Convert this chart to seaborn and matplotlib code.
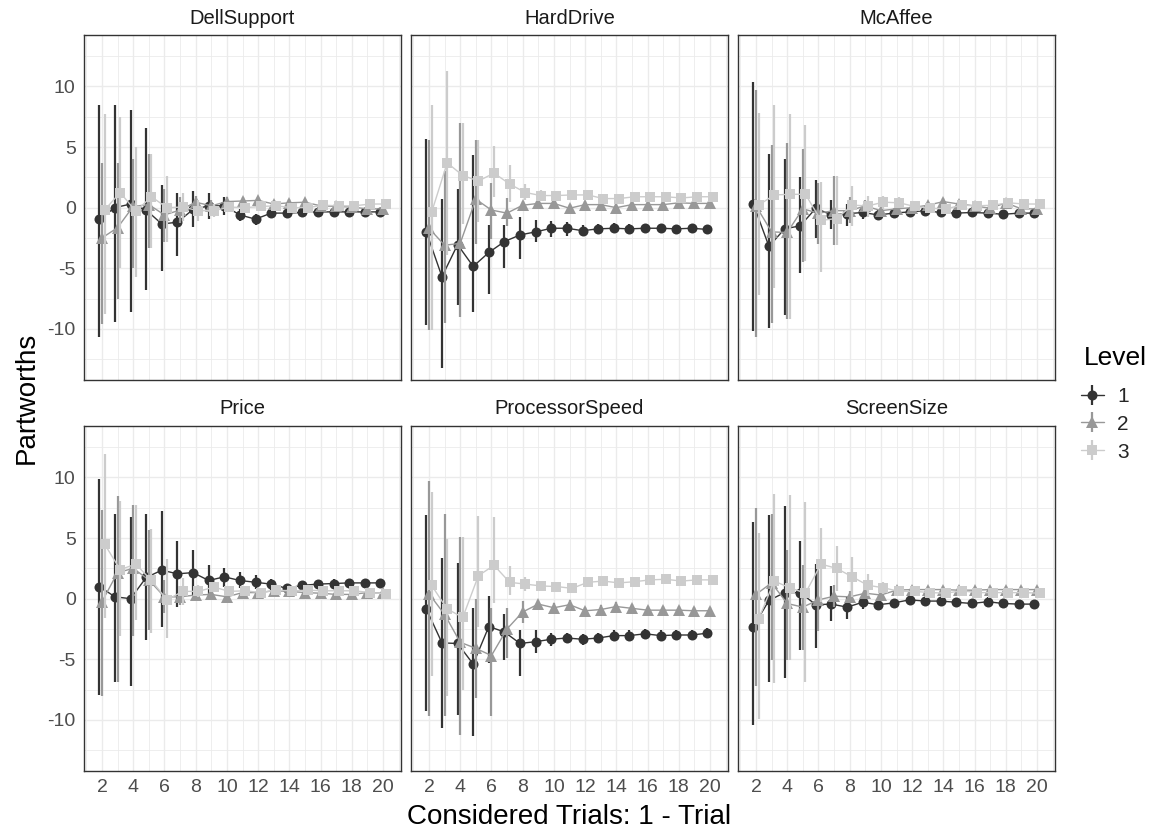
import matplotlib
matplotlib.use("Agg")
import matplotlib.pyplot as plt
from matplotlib.lines import Line2D
from matplotlib.legend_handler import HandlerTuple
from matplotlib.ticker import MultipleLocator
import pandas as pd
import seaborn as sns

trials = list(range(2, 21))
levels = ["1", "2", "3"]
attributes = ["DellSupport", "HardDrive", "McAffee", "Price", "ProcessorSpeed", "ScreenSize"]
x_ticks = [2, 4, 6, 8, 10, 12, 14, 16, 18, 20]
y_ticks = [-10, -5, 0, 5, 10]

# Partworth estimates per level (rows: level 1, 2, 3) and their interval bounds
dell_mean = [
    [-0.95, 0.0, 0.3, -0.2, -1.35, -1.2, -0.15, 0.15, 0.15, -0.6, -0.95, -0.45, -0.45, -0.4, -0.35, -0.35, -0.35, -0.35, -0.35],
    [-2.5, -1.65, 0.1, 0.25, -0.6, -0.2, 0.45, 0.15, 0.5, 0.55, 0.6, 0.3, 0.4, 0.45, 0.15, 0.1, 0.05, -0.1, -0.1],
    [-0.2, 1.25, -0.3, 0.9, 0.0, 0.05, -0.25, -0.25, 0.05, 0.0, 0.1, 0.15, 0.0, 0.0, 0.2, 0.15, 0.15, 0.3, 0.3],
]
dell_lo = [
    [-10.7, -9.45, -8.6, -6.8, -5.25, -3.95, -1.6, -0.9, -0.6, -1.1, -1.4, -0.85, -0.8, -0.75, -0.65, -0.65, -0.65, -0.65, -0.65],
    [-9.6, -7.5, -5.0, -3.3, -2.85, -1.3, -0.15, -0.3, 0.1, 0.2, 0.3, 0.0, 0.1, 0.15, -0.15, -0.2, -0.25, -0.4, -0.4],
    [-8.75, -5.0, -5.7, -3.3, -2.85, -1.1, -1.1, -0.8, -0.4, -0.4, -0.25, -0.2, -0.35, -0.35, -0.1, -0.15, -0.15, 0.0, 0.0],
]
dell_hi = [
    [8.5, 8.5, 8.1, 6.6, 1.9, 1.2, 1.35, 1.2, 0.9, -0.1, -0.5, -0.05, -0.1, -0.05, -0.05, -0.05, -0.05, -0.05, -0.05],
    [3.65, 3.7, 4.05, 4.45, 1.55, 0.9, 1.0, 0.6, 0.9, 0.9, 0.9, 0.6, 0.7, 0.75, 0.45, 0.4, 0.35, 0.2, 0.2],
    [7.75, 7.5, 5.0, 4.45, 2.65, 1.2, 0.6, 0.3, 0.5, 0.4, 0.45, 0.5, 0.35, 0.35, 0.5, 0.45, 0.45, 0.6, 0.6],
]

hdd_mean = [
    [-2.0, -5.7, -3.05, -4.85, -3.7, -2.8, -2.25, -2.0, -1.7, -1.7, -1.9, -1.75, -1.7, -1.75, -1.7, -1.7, -1.75, -1.7, -1.8],
    [-1.7, -3.1, -2.95, 0.7, -0.2, -0.45, 0.2, 0.35, 0.35, -0.05, 0.25, 0.25, 0.0, 0.25, 0.25, 0.25, 0.4, 0.35, 0.35],
    [-0.4, 3.7, 2.65, 2.2, 2.85, 1.95, 1.25, 1.0, 1.0, 1.05, 1.05, 0.75, 0.75, 0.9, 0.9, 0.9, 0.8, 0.9, 0.9],
]
hdd_lo = [
    [-9.7, -13.2, -8.0, -8.6, -7.1, -4.95, -4.2, -2.85, -2.4, -2.3, -2.35, -2.15, -2.1, -2.15, -2.05, -2.05, -2.1, -2.05, -2.15],
    [-10.1, -9.5, -9.0, -3.0, -2.6, -1.5, -0.15, 0.05, 0.05, -0.4, -0.05, -0.05, -0.3, -0.05, -0.05, -0.05, 0.1, 0.05, 0.05],
    [-10.1, -3.9, -1.35, -1.2, 0.85, 0.45, 0.6, 0.55, 0.6, 0.7, 0.7, 0.4, 0.4, 0.55, 0.55, 0.55, 0.45, 0.55, 0.55],
]
hdd_hi = [
    [5.7, 0.75, 1.5, 4.35, -1.4, -1.4, -0.8, -1.05, -1.1, -1.2, -1.45, -1.35, -1.3, -1.35, -1.35, -1.35, -1.4, -1.35, -1.45],
    [5.6, 3.0, 7.0, 5.6, 2.0, 0.8, 0.55, 0.65, 0.65, 0.3, 0.55, 0.55, 0.3, 0.55, 0.55, 0.55, 0.7, 0.65, 0.65],
    [8.5, 11.3, 7.0, 5.6, 5.1, 3.5, 1.95, 1.45, 1.4, 1.4, 1.4, 1.1, 1.1, 1.25, 1.25, 1.25, 1.15, 1.25, 1.25],
]

mcafee_mean = [
    [0.3, -3.2, -1.75, -1.5, -0.05, -0.6, -0.5, -0.4, -0.6, -0.45, -0.35, -0.25, -0.4, -0.45, -0.4, -0.45, -0.55, -0.45, -0.45],
    [0.15, -2.0, -2.05, -0.1, -0.45, -0.25, -0.25, 0.15, -0.25, -0.1, 0.0, 0.2, 0.5, 0.3, 0.15, -0.05, 0.4, -0.1, -0.1],
    [0.2, 1.05, 1.1, 1.1, -1.05, -0.9, 0.2, 0.15, 0.45, 0.4, 0.1, -0.05, -0.1, 0.2, 0.15, 0.2, 0.4, 0.3, 0.3],
]
mcafee_lo = [
    [-10.2, -9.95, -8.85, -5.4, -2.5, -1.75, -1.5, -0.95, -1.0, -0.8, -0.7, -0.55, -0.7, -0.75, -0.7, -0.75, -0.85, -0.75, -0.75],
    [-10.7, -9.5, -9.2, -4.5, -3.0, -3.1, -1.3, -0.3, -0.8, -0.55, -0.35, -0.1, 0.2, 0.0, -0.15, -0.35, 0.1, -0.4, -0.4],
    [-7.25, -6.6, -9.2, -4.4, -5.3, -3.1, -1.5, -0.8, -0.1, -0.05, -0.3, -0.45, -0.5, -0.15, -0.2, -0.15, 0.05, -0.05, -0.05],
]
mcafee_hi = [
    [10.4, 4.4, 4.05, 2.5, 2.3, 0.6, 0.3, 0.05, -0.2, -0.1, 0.0, 0.05, -0.1, -0.15, -0.1, -0.15, -0.25, -0.15, -0.15],
    [9.7, 5.2, 5.3, 4.8, 2.0, 2.6, 0.9, 0.6, 0.3, 0.35, 0.35, 0.5, 0.8, 0.6, 0.45, 0.25, 0.7, 0.2, 0.2],
    [7.85, 8.5, 7.7, 6.8, 2.1, 2.6, 1.8, 1.0, 1.0, 0.85, 0.5, 0.35, 0.3, 0.55, 0.5, 0.55, 0.75, 0.65, 0.65],
]

price_mean = [
    [1.0, 0.15, 0.0, 1.75, 2.35, 2.05, 2.15, 1.5, 1.8, 1.5, 1.35, 1.2, 0.85, 1.1, 1.2, 1.25, 1.3, 1.3, 1.3],
    [-0.25, 2.15, 2.5, 1.55, 0.15, 0.15, 0.3, 0.35, 0.15, 0.5, 0.5, 0.65, 0.6, 0.5, 0.45, 0.35, 0.35, 0.5, 0.45],
    [4.5, 2.4, 2.85, 1.5, -0.1, 0.6, 0.6, 0.95, 0.6, 0.65, 0.5, 0.7, 0.65, 0.7, 0.65, 0.65, 0.65, 0.5, 0.4],
]
price_lo = [
    [-7.95, -6.9, -7.2, -3.4, -2.3, -0.65, 0.2, 0.3, 1.0, 0.9, 0.8, 0.7, 0.45, 0.75, 0.85, 0.9, 0.95, 0.95, 0.95],
    [-8.0, -6.85, -3.1, -2.6, -1.2, -0.5, -0.1, 0.0, -0.15, 0.2, 0.2, 0.35, 0.3, 0.2, 0.15, 0.05, 0.05, 0.2, 0.15],
    [-1.6, -3.1, -1.75, -2.85, -3.25, -0.5, 0.1, 0.55, 0.25, 0.35, 0.2, 0.4, 0.35, 0.4, 0.35, 0.35, 0.35, 0.2, 0.1],
]
price_hi = [
    [9.9, 6.95, 6.7, 6.95, 7.2, 4.75, 4.0, 2.8, 2.5, 2.2, 1.95, 1.65, 1.25, 1.45, 1.55, 1.6, 1.65, 1.65, 1.65],
    [7.35, 8.45, 7.7, 5.65, 1.5, 0.8, 0.7, 0.7, 0.45, 0.8, 0.8, 0.95, 0.9, 0.8, 0.75, 0.65, 0.65, 0.8, 0.75],
    [11.9, 8.05, 7.7, 5.75, 3.25, 1.7, 1.1, 1.35, 0.95, 0.95, 0.8, 1.0, 0.95, 1.0, 0.95, 0.95, 0.95, 0.8, 0.7],
]

cpu_mean = [
    [-0.85, -3.65, -3.7, -5.4, -2.3, -2.75, -3.7, -3.55, -3.35, -3.25, -3.35, -3.25, -3.05, -3.05, -2.9, -3.05, -3.0, -3.0, -2.85],
    [0.4, -1.3, -3.6, -4.1, -4.7, -2.5, -1.1, -0.45, -0.75, -0.5, -1.0, -0.9, -0.65, -0.8, -0.95, -0.95, -0.95, -1.0, -1.0],
    [1.1, -0.85, -1.55, 1.9, 2.75, 1.35, 1.2, 1.05, 1.0, 0.85, 1.35, 1.45, 1.3, 1.4, 1.55, 1.6, 1.45, 1.55, 1.55],
]
cpu_lo = [
    [-9.3, -10.7, -9.6, -11.3, -5.3, -5.05, -6.4, -4.5, -3.9, -3.7, -3.8, -3.7, -3.5, -3.5, -3.3, -3.5, -3.4, -3.4, -3.25],
    [-9.65, -9.7, -11.25, -8.2, -9.7, -4.9, -2.0, -0.8, -1.1, -0.85, -1.35, -1.25, -1.0, -1.15, -1.3, -1.3, -1.3, -1.35, -1.35],
    [-6.4, -8.0, -7.5, -2.3, -0.35, 0.3, 0.6, 0.65, 0.65, 0.5, 1.0, 1.1, 0.95, 1.05, 1.2, 1.25, 1.1, 1.2, 1.2],
]
cpu_hi = [
    [6.9, 3.35, 2.95, -0.75, 0.2, -1.3, -2.55, -2.6, -2.8, -2.8, -2.9, -2.8, -2.6, -2.6, -2.5, -2.6, -2.6, -2.6, -2.45],
    [9.7, 7.0, 5.1, 0.0, -0.75, -0.75, -0.2, -0.1, -0.4, -0.15, -0.65, -0.55, -0.3, -0.45, -0.6, -0.6, -0.6, -0.65, -0.65],
    [8.8, 4.9, 5.1, 6.8, 6.7, 2.7, 1.8, 1.45, 1.35, 1.2, 1.7, 1.8, 1.65, 1.75, 1.9, 1.95, 1.8, 1.9, 1.9],
]

screen_mean = [
    [-2.3, -0.15, 0.5, 0.5, -0.5, -0.45, -0.7, -0.3, -0.5, -0.35, -0.1, -0.2, -0.2, -0.3, -0.4, -0.25, -0.4, -0.45, -0.45],
    [0.35, 1.3, -0.4, -0.7, -0.1, 0.2, 0.15, 0.45, 0.3, 0.7, 0.75, 0.75, 0.75, 0.7, 0.7, 0.75, 0.75, 0.75, 0.75],
    [-1.7, 1.45, 0.9, 0.45, 2.85, 2.5, 1.8, 1.1, 0.9, 0.6, 0.6, 0.5, 0.45, 0.65, 0.5, 0.5, 0.5, 0.5, 0.45],
]
screen_lo = [
    [-10.4, -6.9, -6.55, -4.2, -4.05, -1.85, -1.7, -0.85, -0.9, -0.7, -0.45, -0.55, -0.55, -0.65, -0.75, -0.6, -0.75, -0.8, -0.8],
    [-7.25, -5.05, -5.05, -4.2, -2.7, -0.7, -0.3, 0.1, 0.0, 0.4, 0.45, 0.45, 0.45, 0.4, 0.4, 0.45, 0.45, 0.45, 0.45],
    [-9.95, -7.0, -5.05, -6.85, -0.25, 0.6, 0.15, 0.2, 0.4, 0.25, 0.3, 0.2, 0.15, 0.35, 0.2, 0.2, 0.2, 0.2, 0.15],
]
screen_hi = [
    [6.35, 6.9, 7.65, 4.75, 2.9, 1.05, 0.15, 0.15, -0.1, 0.0, 0.25, 0.15, 0.15, 0.05, -0.05, 0.1, -0.05, -0.1, -0.1],
    [7.5, 6.95, 4.05, 2.8, 2.9, 1.1, 0.6, 0.8, 0.6, 1.0, 1.05, 1.05, 1.05, 1.0, 1.0, 1.05, 1.05, 1.05, 1.05],
    [5.4, 8.6, 8.55, 8.0, 5.8, 4.35, 3.45, 2.0, 1.4, 0.95, 0.9, 0.8, 0.75, 0.95, 0.8, 0.8, 0.8, 0.8, 0.75],
]

series = {
    "DellSupport": (dell_mean, dell_lo, dell_hi),
    "HardDrive": (hdd_mean, hdd_lo, hdd_hi),
    "McAffee": (mcafee_mean, mcafee_lo, mcafee_hi),
    "Price": (price_mean, price_lo, price_hi),
    "ProcessorSpeed": (cpu_mean, cpu_lo, cpu_hi),
    "ScreenSize": (screen_mean, screen_lo, screen_hi),
}

# Long-format table of all estimates
rows = []
for attr in attributes:
    means, los, his = series[attr]
    for li, lvl in enumerate(levels):
        for t, m, lo, hi in zip(trials, means[li], los[li], his[li]):
            rows.append({"Attribute": attr, "Level": lvl, "Trial": t,
                         "Partworth": m, "lo": lo, "hi": hi})
df = pd.DataFrame(rows)

# side-by-side dodge of the three levels (dodge width 0.5)
dodge = {"1": -1 / 6, "2": 0.0, "3": 1 / 6}
df["xd"] = df["Trial"] + df["Level"].map(dodge)

palette = {"1": "#333333", "2": "#989898", "3": "#CCCCCC"}
markers = {"1": "o", "2": "^", "3": "s"}
msize = {"1": 7.2, "2": 8.0, "3": 7.0}

sns.set_theme(style="white")
plt.rcParams["font.family"] = ["Liberation Sans", "DejaVu Sans"]
plt.rcParams["axes.unicode_minus"] = False

W, H = 1152, 832
fig = plt.figure(figsize=(W / 100, H / 100), dpi=100)

col_left = [84, 411, 738]
row_top = [35, 426]
pw, ph = 317, 344.7
grid_col = "#EBEBEB"
tick_col = "#4D4D4D"
frame_col = "#333333"

axes = []
for i, attr in enumerate(attributes):
    r, c = divmod(i, 3)
    ax = fig.add_axes([col_left[c] / W, 1 - (row_top[r] + ph) / H, pw / W, ph / H])
    axes.append(ax)
    sub = df[df["Attribute"] == attr]
    for k, lvl in enumerate(levels):
        s = sub[sub["Level"] == lvl]
        ax.vlines(s["xd"], s["lo"], s["hi"], color=palette[lvl], lw=1.6, zorder=3 + 2 * k)
        sns.lineplot(data=s, x="xd", y="Partworth", color=palette[lvl],
                     marker=markers[lvl], markersize=msize[lvl], markeredgewidth=0,
                     linewidth=1.0, errorbar=None, ax=ax, zorder=4 + 2 * k)

    ax.set_xlim(0.85, 21.15)
    ax.set_ylim(-14.2, 14.25)
    ax.set_xticks(x_ticks)
    ax.xaxis.set_minor_locator(MultipleLocator(1))
    ax.set_yticks(y_ticks)
    ax.yaxis.set_minor_locator(MultipleLocator(2.5))
    ax.grid(which="major", color=grid_col, lw=1.0, zorder=0)
    ax.grid(which="minor", color=grid_col, lw=0.6, zorder=0)
    ax.set_axisbelow(True)
    for sp in ax.spines.values():
        sp.set_color(frame_col)
        sp.set_linewidth(1.0)
    ax.set_xlabel("")
    ax.set_ylabel("")
    ax.tick_params(which="minor", length=0)
    ax.tick_params(which="major", length=4, width=1, color=frame_col,
                   labelsize=14, labelcolor=tick_col, pad=2)
    if r == 0:
        ax.tick_params(axis="x", length=0, labelbottom=False)
    if c != 0:
        ax.tick_params(axis="y", length=0, labelleft=False)
    ax.text(0.5, 1 + 17 / ph, attr, transform=ax.transAxes, ha="center", va="center",
            fontsize=14.5, color="#1A1A1A")

fig.text(569 / W, 1 - 817 / H, "Considered Trials: 1 - Trial", ha="center", va="center",
         fontsize=20, color="black")
fig.text(27 / W, 1 - 398 / H, "Partworths", ha="center", va="center", rotation=90,
         fontsize=20, color="black")

# Legend: title set as its own text, keys combine the path, the point and the interval
fig.text(1084 / W, 1 - 358 / H, "Level", ha="left", va="center", fontsize=19, color="black")
handles = []
for lvl in levels:
    h_line = Line2D([], [], color=palette[lvl], lw=1.0, marker=markers[lvl],
                    markersize=msize[lvl], markeredgewidth=0)
    h_bar = Line2D([], [], color=palette[lvl], marker="|", markersize=14,
                   markeredgewidth=1.6, linestyle="none")
    handles.append((h_bar, h_line))

leg = fig.legend(handles, levels, handler_map={tuple: HandlerTuple(ndivide=1, pad=0)},
                 loc="upper left", bbox_to_anchor=(1081 / W, 1 - 387 / H),
                 frameon=False, fontsize=15, handlelength=1.1,
                 handletextpad=0.65, labelspacing=0.42, borderpad=0, borderaxespad=0)

fig.savefig("out.png", dpi=100, facecolor="white")
